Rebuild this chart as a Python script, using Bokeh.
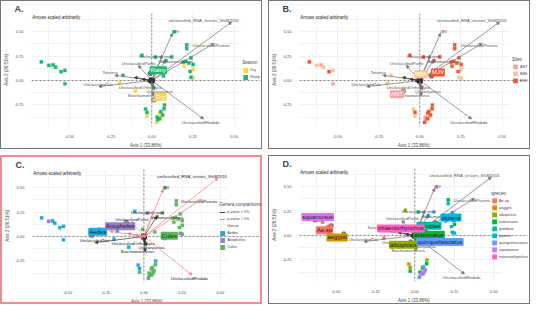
from bokeh.plotting import figure
from bokeh.models import (ColumnDataSource, Arrow, NormalHead, Span, Label, BoxAnnotation,
                          Legend, LegendItem, FixedTicker, NumeralTickFormatter)
from bokeh.layouts import row, column
from bokeh.embed import file_html
from bokeh.resources import INLINE
from bokeh.core.properties import value

FONT = "Liberation Sans"

# ---------------- sample scores ----------------
pc1 = [-0.670, -0.625, -0.599, -0.584, -0.551, -0.527, -0.527, -0.174, -0.196, -0.060,
       0.022, 0.121, 0.086, 0.136, 0.212, 0.212, 0.238, 0.190, 0.205, 0.225,
       0.251, 0.196, 0.251, 0.233, 0.238, 0.251, -0.009, 0.011, 0.071, -0.100,
       0.077, 0.075, 0.055, -0.038, -0.029, 0.033, 0.046, 0.066, 0.048, 0.053,
       0.029, -0.029, 0.060, 0.036]
pc2 = [0.190, 0.155, 0.160, 0.136, 0.090, 0.103, -0.033, 0.054, -0.027, 0.258,
       0.239, 0.242, 0.204, 0.497, 0.364, 0.326, 0.231, 0.188, 0.195, 0.177,
       0.163, 0.147, 0.114, 0.092, 0.033, 0.024, 0.073, -0.068, 0.046, -0.109,
       -0.250, -0.288, -0.318, -0.291, -0.326, -0.375, -0.389, -0.351, -0.332, -0.389,
       -0.427, -0.364, -0.370, -0.400]
season = ["Rainy"] * 8 + ["Dry"] + ["Rainy"] * 12 + ["Dry", "Dry", "Rainy", "Rainy", "Dry",
          "Rainy", "Rainy", "Rainy", "Dry"] + ["Rainy"] * 8 + ["Dry"] * 5 + ["Rainy"]
site = ["MJV", "BBK", "ANT", "BBK", "MJV", "BBK", "ANT", "BBK", "BBK", "MJV",
        "MJV", "MJV", "MJV", "BBK", "MJV", "MJV", "MJV", "MJV", "MJV", "MJV",
        "MJV", "MJV", "BBK", "MJV", "BBK", "BBK", "MJV", "MJV", "MJV", "ANT",
        "MJV", "MJV", "MJV", "BBK", "MJV", "ANT", "MJV", "MJV", "MJV", "BBK",
        "MJV", "BBK", "BBK", "ANT"]
genus = ["Aedes", "Anopheles", "Aedes", "Aedes", "Aedes", "Aedes", "Aedes", "Aedes", "Aedes", "Aedes",
         "Anopheles", "Culex", "Culex", "Culex", "Culex", "Culex", "Culex", "Culex", "Culex", "Culex",
         "Culex", "Culex", "Culex", "Culex", "Anopheles", "Culex", "Culex", "Culex", "Culex", "Aedes",
         "Aedes", "Culex", "Culex", "Aedes", "Aedes", "Culex", "Culex", "Culex", "Culex", "Culex",
         "Culex", "Culex", "Culex", "Anopheles"]
species = ["Ae.sp", "squamosus", "aegypti", "aegypti", "Ae.sp", "Ae.sp", "aegypti", "Ae.sp", "Ae.sp", "albopictus",
           "gambiae", "quinquefasciatus", "pipiens", "tritaeniorhynchus", "antennatus", "pipiens", "pipiens",
           "antennatus", "quinquefasciatus", "pipiens",
           "pipiens", "quinquefasciatus", "antennatus", "pipiens", "gambiae", "pipiens", "antennatus",
           "antennatus", "antennatus", "albopictus",
           "albopictus", "antennatus", "quinquefasciatus", "aegypti", "albopictus", "antennatus",
           "quinquefasciatus", "quinquefasciatus", "antennatus", "quinquefasciatus",
           "quinquefasciatus", "antennatus", "tritaeniorhynchus", "squamosus"]

# ---------------- loadings (arrows) ----------------
vir_names = ["unclassified_RNA_viruses_ShiM2016", "IfV", "UnclassifiedPicorna", "UnclassifiedLuteo",
             "Alphamesonivirus", "UnclassifiedPartiti", "Totivirus", "UnclassifiedToti",
             "UnclassifiedOrthomyxo", "Quaranjavirus", "Brachiamonovirus", "UnclassifiedRhabdo"]
load_x = [0.485, 0.126, 0.379, 0.062, 0.086, -0.082, -0.225, -0.322, 0.004, 0.016, 0.009, 0.315]
load_y = [0.598, 0.484, 0.380, 0.258, 0.209, 0.155, 0.054, -0.063, -0.063, -0.100, -0.158, -0.394]
lab_x = [0.315, 0.150, 0.361, 0.022, 0.150, -0.079, -0.253, -0.326, -0.070, 0.049, -0.042, 0.297]
lab_y = [0.611, 0.497, 0.359, 0.245, 0.196, 0.177, 0.079, -0.041, -0.068, -0.117, -0.158, -0.429]
signif = [True, True, True, True, False, True, True, False, False, False, False, True]
small_x = [-0.106, -0.060, -0.030, 0.020, -0.015]
small_y = [0.033, 0.014, -0.010, 0.012, 0.020]

# ---------------- groups ----------------
seasons = ["Dry", "Rainy"]
season_colors = ["#F6D743", "#1DB873"]
season_cx = [0.013, -0.009]
season_cy = [-0.198, 0.073]
season_lx = [0.055, 0.040]
season_ly = [-0.166, 0.106]

sites = ["ANT", "BBK", "MJV"]
site_colors = ["#F7A3A3", "#FBC593", "#F4562E"]
site_cx = [-0.100, -0.010, 0.071]
site_cy = [-0.109, 0.030, 0.046]
site_lx = [-0.139, 0.007, 0.110]
site_ly = [-0.141, 0.065, 0.082]

genera = ["Aedes", "Anopheles", "Culex"]
genus_colors = ["#21A9E1", "#9A7FC9", "#5CB85C"]
genus_cx = [-0.341, -0.116, 0.136]
genus_cy = [0.013, 0.145, -0.013]
genus_lx = [-0.303, -0.156, 0.166]
genus_ly = [0.048, 0.105, 0.008]

spp = ["Ae.sp", "aegypti", "albopictus", "antennatus", "gambiae", "pipiens",
       "quinquefasciatus", "squamosus", "tritaeniorhynchus"]
spp_colors = ["#F8766D", "#D39200", "#93AA00", "#00BA38", "#00C19F", "#00B9E3",
              "#619CFF", "#DB72FB", "#FF61C3"]
spp_cx = [-0.531, -0.449, -0.025, 0.117, 0.129, 0.246, 0.100, -0.633, -0.020]
spp_cy = [0.097, 0.016, -0.065, -0.011, 0.129, 0.161, -0.030, 0.161, 0.060]
spp_lx = [-0.572, -0.492, -0.072, 0.090, 0.090, 0.229, 0.160, -0.615, -0.088]
spp_ly = [0.054, -0.019, -0.094, 0.008, 0.099, 0.183, -0.065, 0.188, 0.073]

x_ticks = [-0.50, -0.25, 0.0, 0.25, 0.50]
y_ticks = [-0.25, 0.0, 0.25, 0.50]
PANEL_XMAX = 0.545
Y_TOP = 0.685
PINK = "#F47C8A"


def make_panel(letter, attr, groups, colors, cx, cy, lx, ly, legend_title,
               label_text_color, border, x_end, arrow_mode=False):
    p = figure(width=262, height=149, x_range=(-0.73, x_end), y_range=(-0.47, Y_TOP),
               output_backend="svg", toolbar_location=None,
               min_border_left=4, min_border_right=3, min_border_top=4, min_border_bottom=4)
    p.styles = {"border": border}
    p.outline_line_color = None
    p.title.text = letter
    p.title.text_font = FONT
    p.title.text_font_size = "9px"
    p.title.text_font_style = "bold"
    p.title.align = "left"
    p.title.offset = -17
    p.title.standoff = 0

    p.xaxis.ticker = FixedTicker(ticks=x_ticks, minor_ticks=[-0.625, -0.375, -0.125, 0.125, 0.375])
    p.yaxis.ticker = FixedTicker(ticks=y_ticks, minor_ticks=[-0.375, -0.125, 0.125, 0.375, 0.625])
    for ax in (p.xaxis, p.yaxis):
        ax.formatter = NumeralTickFormatter(format="0.00")
        ax.axis_line_color = None
        ax.major_tick_line_color = None
        ax.minor_tick_line_color = None
        ax.major_label_text_font_size = "4px"
        ax.major_label_text_color = "#4D4D4D"
        ax.major_label_text_font = FONT
        ax.axis_label_text_font_size = "4.5px"
        ax.axis_label_text_font_style = "normal"
        ax.axis_label_text_font = FONT
        ax.axis_label_standoff = 2
        ax.major_label_standoff = 2
    p.xaxis.axis_label = "Axis 1 (33.86%)"
    p.yaxis.axis_label = "Axis 2 (26.51%)"
    p.xgrid.grid_line_color = "#E6E6E6"
    p.ygrid.grid_line_color = "#E6E6E6"
    p.xgrid.grid_line_width = 0.6
    p.ygrid.grid_line_width = 0.6
    p.xgrid.minor_grid_line_color = "#F3F3F3"
    p.ygrid.minor_grid_line_color = "#F3F3F3"

    p.add_layout(Span(location=0, dimension="height", line_color="#666666",
                      line_dash="2 2", line_width=0.8))
    p.add_layout(Span(location=0, dimension="width", line_color="#666666",
                      line_dash="2 2", line_width=0.8))
    # blank strip to the right of the panel (legend area)
    p.add_layout(BoxAnnotation(left=PANEL_XMAX, fill_color="white", fill_alpha=1,
                               line_color=None, level="underlay"))
    # subtitle in the top-left corner
    p.add_layout(Label(x=-0.725, y=Y_TOP, text="Arrows scaled arbitrarily", text_font=FONT,
                       text_font_size="4.5px", text_baseline="top", text_color="#222222",
                       y_offset=-1))

    for g, c in zip(groups, colors):
        xs = [x for x, a in zip(pc1, attr) if a == g]
        ys = [y for y, a in zip(pc2, attr) if a == g]
        p.scatter(xs, ys, size=3.2, fill_color=c, line_color=c, line_width=0.3, marker="square")

    def add_arrows(xs, ys, col):
        src = ColumnDataSource(dict(x0=[0] * len(xs), y0=[0] * len(xs), x1=xs, y1=ys))
        p.add_layout(Arrow(end=NormalHead(size=3, fill_color=col, line_color=col, line_width=0.5),
                           x_start="x0", y_start="y0", x_end="x1", y_end="y1",
                           line_color=col, line_width=0.7, source=src))

    if arrow_mode:
        sx = [x for x, s in zip(load_x, signif) if s]
        sy = [y for y, s in zip(load_y, signif) if s]
        nx = [x for x, s in zip(load_x, signif) if not s]
        ny = [y for y, s in zip(load_y, signif) if not s]
        add_arrows(nx, ny, "#333333")
        add_arrows(sx, sy, PINK)
        add_arrows(small_x, small_y, PINK)
        lab_col = "#222222"
    else:
        add_arrows(load_x, load_y, "#6E6E6E")
        add_arrows(small_x, small_y, "#333333")
        lab_col = "#555555"
    p.scatter([0], [0], size=5, marker="square", color="#111111")

    p.text(x=lab_x, y=lab_y, text=vir_names, text_font=value(FONT), text_font_size="4.2px",
           text_align="center", text_baseline="middle", text_color=lab_col)

    for i, (g, c) in enumerate(zip(groups, colors)):
        p.scatter([cx[i]], [cy[i]], size=4.5, fill_color=c, line_color="#444444", line_width=0.6)
        p.add_layout(Label(x=lx[i], y=ly[i], text=g, text_font=FONT, text_font_size="6px",
                           text_color=label_text_color, text_align="center",
                           text_baseline="middle", background_fill_color=c,
                           padding=1, border_radius=1))

    # legend keys: zero-size glyphs anchored at each group's centroid
    items = []
    if arrow_mode:
        r1 = p.line([0, 0], [0, 0], line_color="#333333", line_width=0.9)
        r2 = p.line([0, 0], [0, 0], line_color=PINK, line_width=0.9)
        items += [LegendItem(label="p-value > 5%", renderers=[r1]),
                  LegendItem(label="p-value < 5%", renderers=[r2])]
        r3 = p.quad(left=[0], right=[0], top=[0], bottom=[0], fill_alpha=0, line_alpha=0)
        items.append(LegendItem(label=legend_title, renderers=[r3]))
    for i, (g, c) in enumerate(zip(groups, colors)):
        r = p.quad(left=[cx[i]], right=[cx[i]], top=[cy[i]], bottom=[cy[i]],
                   fill_color=c, line_color=None)
        items.append(LegendItem(label=g, renderers=[r]))
    leg = Legend(items=items, title=("Genera comparisons" if arrow_mode else legend_title),
                 location="center_right", label_text_font_size="3.8px", title_text_font_size="4.5px",
                 label_text_font=FONT, title_text_font=FONT, glyph_width=6, glyph_height=6,
                 label_height=6, label_width=8, spacing=1, padding=1, margin=0,
                 border_line_color=None, background_fill_alpha=0, label_standoff=2,
                 title_standoff=2)
    p.add_layout(leg)
    return p


pA = make_panel("A.", season, seasons, season_colors, season_cx, season_cy, season_lx, season_ly,
                "Season", "white", "1px solid #777777", 0.66)
pB = make_panel("B.", site, sites, site_colors, site_cx, site_cy, site_lx, site_ly,
                "Sites", "white", "1px solid #777777", 0.66)
pC = make_panel("C.", genus, genera, genus_colors, genus_cx, genus_cy, genus_lx, genus_ly,
                "Genus", "#222222", "2px solid #F28B8B", 0.77, arrow_mode=True)
pD = make_panel("D.", species, spp, spp_colors, spp_cx, spp_cy, spp_lx, spp_ly,
                "species", "#222222", "1px solid #777777", 0.72)

layout = column(row(pA, pB, spacing=6), row(pC, pD, spacing=6), spacing=6)
open("out.html", "w").write(file_html(layout, INLINE))
